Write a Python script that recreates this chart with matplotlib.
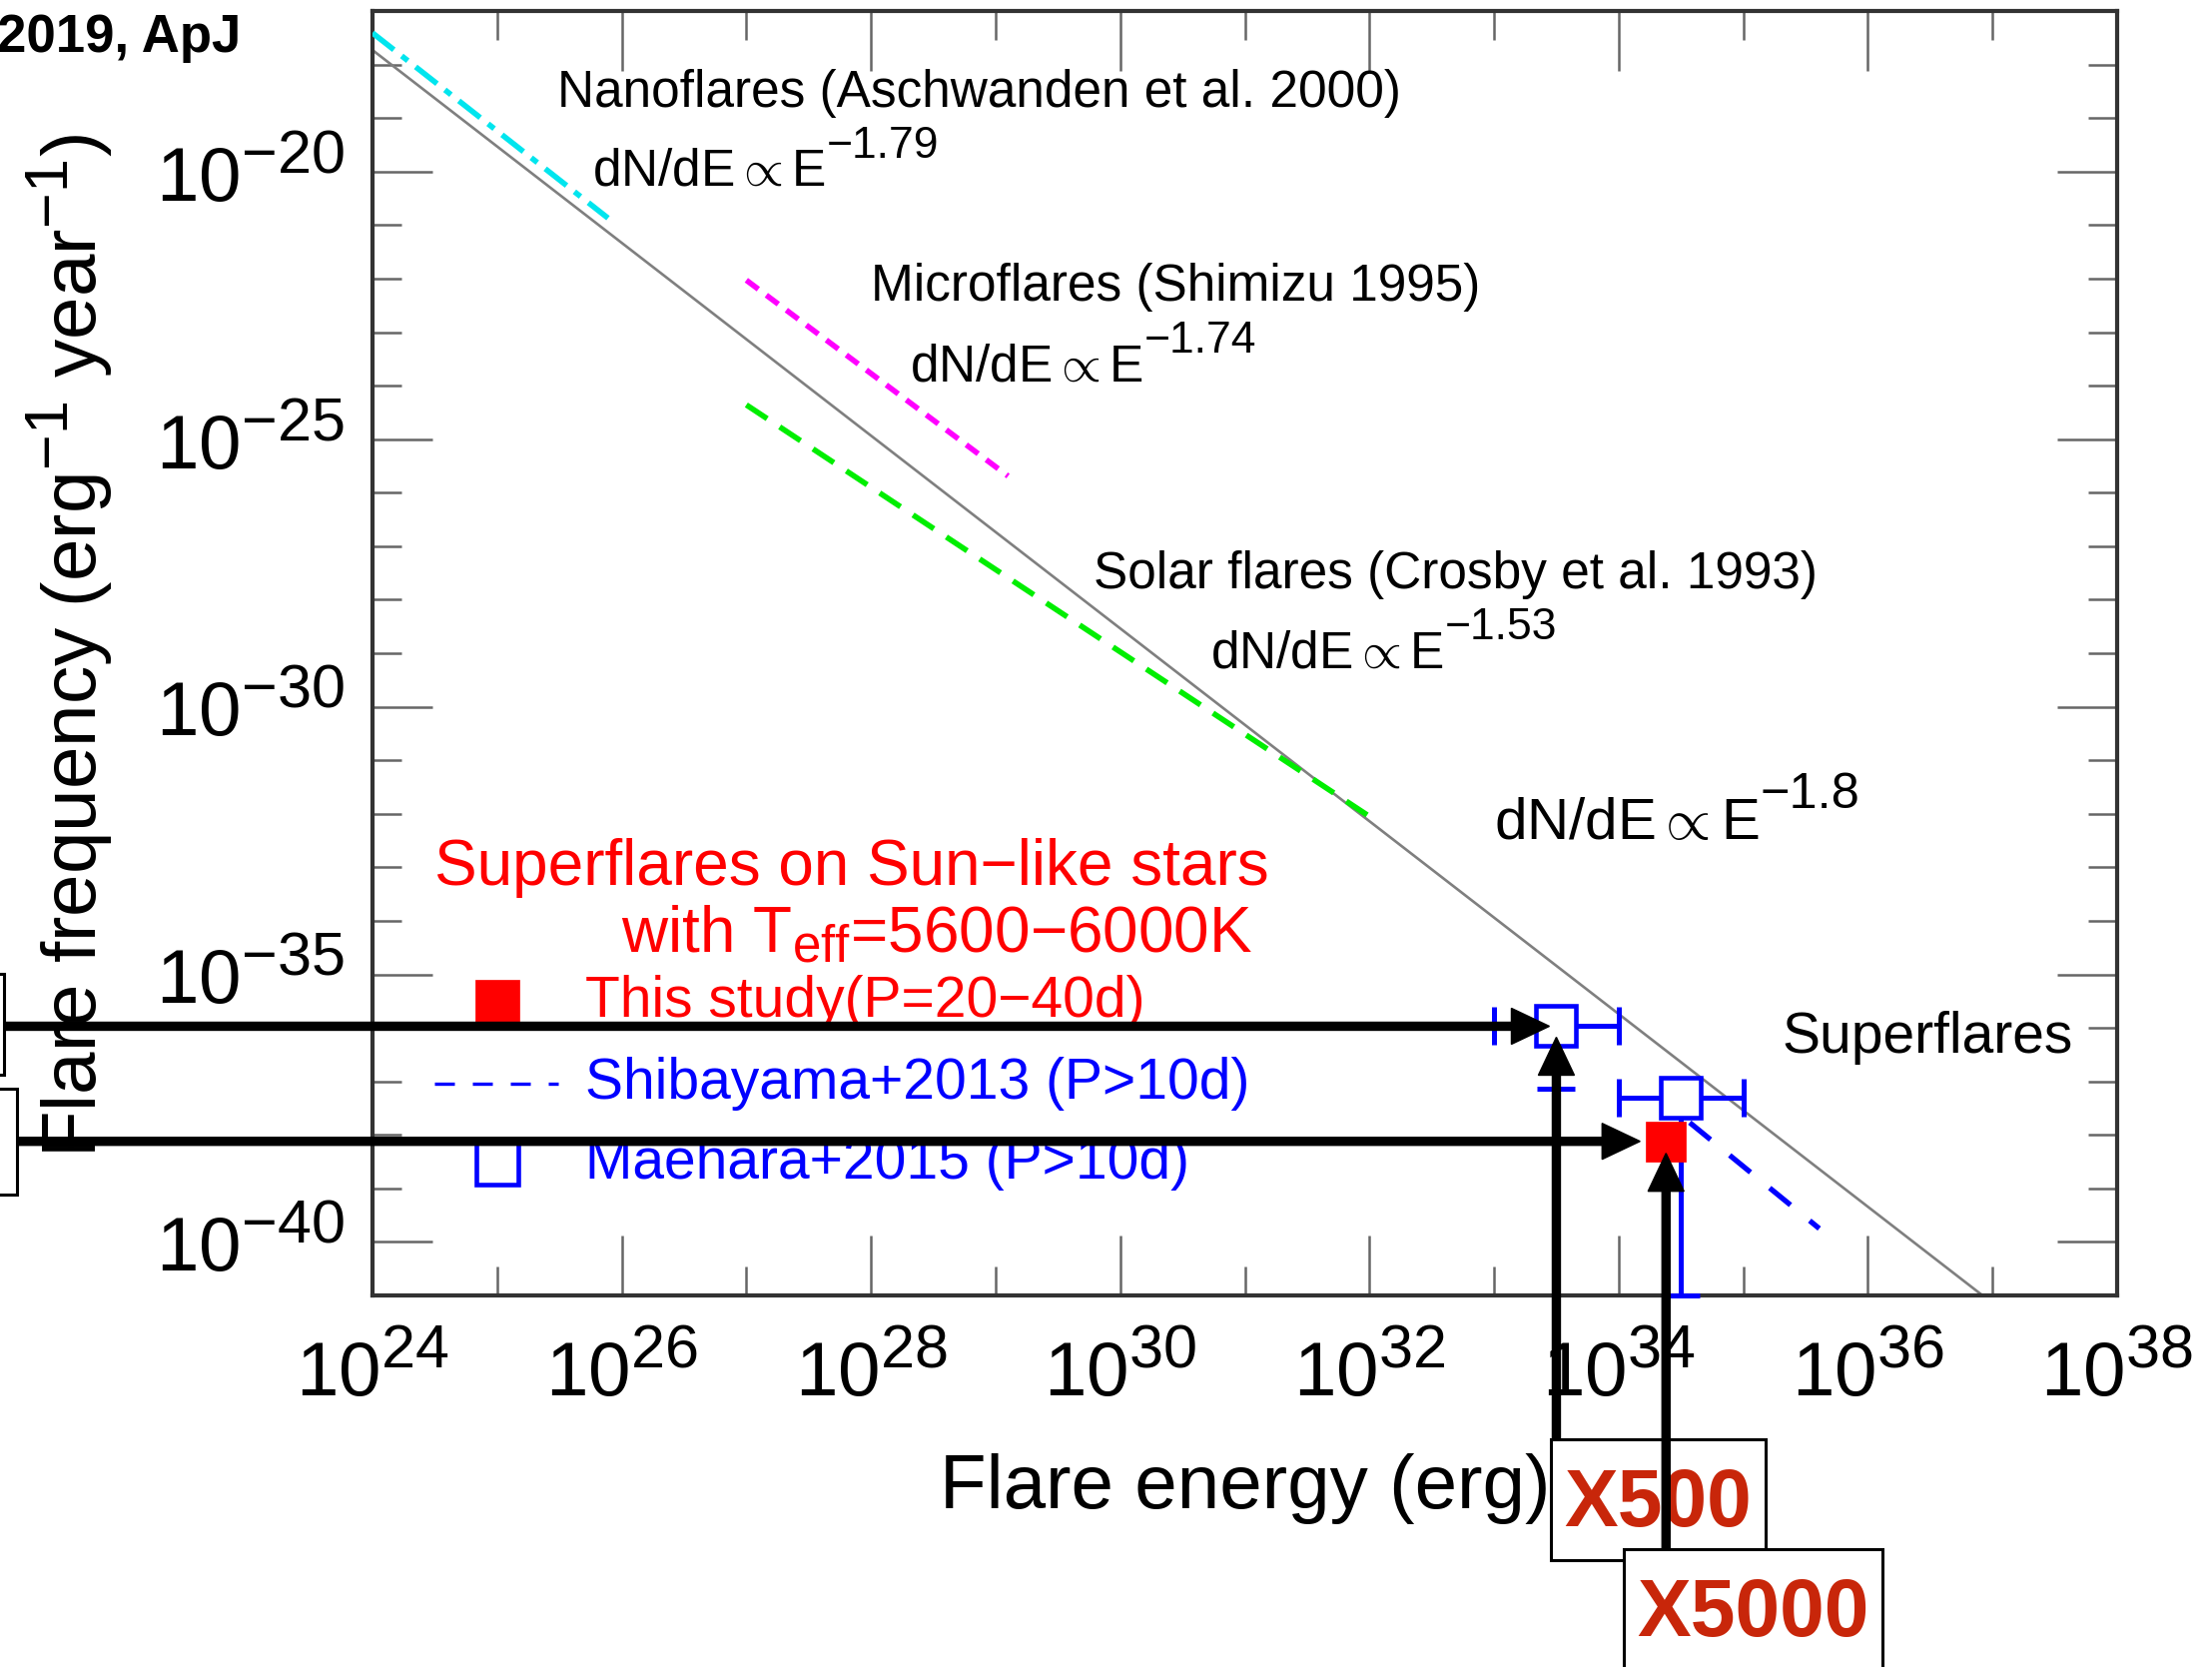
import matplotlib
matplotlib.use('Agg')
import matplotlib.pyplot as plt
import matplotlib._mathtext as mathtext_internal
import numpy as np
from matplotlib.patches import Rectangle, FancyArrow
from matplotlib.transforms import IdentityTransform
from matplotlib.ticker import FixedLocator, FuncFormatter, NullFormatter

plt.rcParams['font.family'] = ['Liberation Sans', 'DejaVu Sans']
plt.rcParams['mathtext.fontset'] = 'custom'
plt.rcParams['mathtext.rm'] = 'Liberation Sans'
plt.rcParams['mathtext.it'] = 'Liberation Sans:italic'
plt.rcParams['mathtext.bf'] = 'Liberation Sans:bold'
# the original uses bigger super/subscripts than mathtext's default 0.7
mathtext_internal.SHRINK_FACTOR = 0.8

W, H = 2215, 1669

# power-law lines, end points as (log10 E, log10 frequency)
fit_logE = [24.0, 36.92]          # dN/dE ~ E^-1.8 through everything
fit_logF = [-17.73, -41.0]
nano_logE = [24.0, 25.89]         # Aschwanden et al. 2000
nano_logF = [-17.41, -20.87]
micro_logE = [27.0, 29.1]         # Shimizu 1995
micro_logF = [-22.03, -25.69]
crosby_logE = [27.0, 32.0]        # Crosby et al. 1993
crosby_logF = [-24.36, -32.05]
shiba_logE = [34.57, 35.61]       # Shibayama+2013
shiba_logF = [-37.77, -39.75]

# Maehara+2015 points
maehara_logE = [33.5, 34.5]
maehara_logF = [-35.97, -37.30]
maehara_logE_lo = [33.0, 34.0]
maehara_logE_hi = [34.0, 35.0]
maehara_logF_lo = [-37.13, -41.0]

# this study
this_logE = [34.38]
this_logF = [-38.12]
this_logF_lo = [-41.0]

xmajor = [24, 26, 28, 30, 32, 34, 36, 38]
xminor = [25, 27, 29, 31, 33, 35, 37]
ymajor = [-20, -25, -30, -35, -40]
yminor = [v for v in range(-41, -16) if v not in ymajor]


def p(a):
    return 10.0 ** np.array(a)


fig = plt.figure(figsize=(W / 100, H / 100), dpi=100)
ax = fig.add_axes([373 / W, 1 - 1297 / H, (2120 - 373) / W, (1297 - 11) / H])
ax.set_xscale('log')
ax.set_yscale('log')
ax.set_xlim(1e24, 1e38)
ax.set_ylim(1e-41, 1e-17)
renderer = fig.canvas.get_renderer()

ax.plot(p(fit_logE), p(fit_logF), color='#7f7f7f', lw=1.9, zorder=2)
ax.plot(p(nano_logE), p(nano_logF), color='#00e5ee', lw=4.0,
        dashes=(4.9, 1.8, 1.4, 1.8), zorder=3)
ax.plot(p(micro_logE), p(micro_logF), color='#ff00ff', lw=4.0,
        dashes=(2.7, 1.8), zorder=3)
ax.plot(p(crosby_logE), p(crosby_logF), color='#00ee00', lw=4.0,
        dashes=(4.5, 2.7), zorder=3)
ax.plot(p(shiba_logE), p(shiba_logF), color='#0000ff', lw=3.8,
        dashes=(5.1, 4.7), zorder=3)

# Maehara error bars and squares
mE = p(maehara_logE)
mF = p(maehara_logF)
xerr = [mE - p(maehara_logE_lo), p(maehara_logE_hi) - mE]
yerr = [mF - p(maehara_logF_lo), np.zeros(len(mF))]
ax.errorbar(mE, mF, xerr=xerr, yerr=yerr, fmt='none', ecolor='#0000ff',
            elinewidth=3.6, capsize=14, capthick=3.6, zorder=4, clip_on=False)

tE = p(this_logE)
tF = p(this_logF)
ax.errorbar(tE, tF, yerr=[tF - p(this_logF_lo), np.zeros(1)], fmt='none',
            ecolor='#ff0000', elinewidth=3.6, capsize=0, zorder=5)
ax.plot(tE, tF, 's', ms=29, color='#ff0000', mec='#ff0000', mew=0.5, zorder=6)
ax.plot(mE, mF, 's', ms=29, mfc='white', mec='#0000ff', mew=3.3, zorder=7)

# axes styling
for s in ax.spines.values():
    s.set_linewidth(3.0)
    s.set_color('#333333')
ax.xaxis.set_major_locator(FixedLocator(p(xmajor)))
ax.xaxis.set_minor_locator(FixedLocator(p(xminor)))
ax.yaxis.set_major_locator(FixedLocator(p(ymajor)))
ax.yaxis.set_minor_locator(FixedLocator(p(yminor)))
fmt = FuncFormatter(lambda v, pos: r'$\mathregular{10^{%d}}$' % round(np.log10(v)))
ax.xaxis.set_major_formatter(fmt)
ax.yaxis.set_major_formatter(fmt)
ax.xaxis.set_minor_formatter(NullFormatter())
ax.yaxis.set_minor_formatter(NullFormatter())
ax.tick_params(which='both', direction='in', top=True, right=True,
               color='#666666', width=1.8, labelsize=55)
ax.tick_params(which='major', length=43)
ax.tick_params(which='minor', length=21)
ax.tick_params(axis='x', which='major', pad=30)
ax.tick_params(axis='y', which='major', pad=20)


def law(fx, fy, k, size=37):
    # base text, then a large superscript placed right after it
    t = ax.text(fx, fy, r'dN/dE$\propto$E', va='baseline', fontsize=size,
                color='black', transform=ax.transAxes)
    bb = t.get_window_extent(renderer)
    bx, by = ax.transAxes.transform((fx, fy))
    ax.text(bb.x1 + 1, by + 0.76 * size, '\u2212' + k, va='baseline',
            fontsize=0.865 * size, color='black', transform=IdentityTransform())


ann = dict(transform=ax.transAxes, fontsize=37, color='black')
ax.text(0.106, 0.936, 'Nanoflares (Aschwanden et al. 2000)', va='center', **ann)
law(0.126, 0.864, '1.79')
ax.text(0.2857, 0.785, 'Microflares (Shimizu 1995)', va='center', **ann)
law(0.308, 0.712, '1.74')
ax.text(0.413, 0.561, 'Solar flares (Crosby et al. 1993)', va='center', **ann)
law(0.48, 0.489, '1.53')
law(0.643, 0.355, '1.8', size=42)
ax.text(0.808, 0.2006, 'Superflares', va='center', transform=ax.transAxes,
        fontsize=41, color='black')

red = dict(transform=ax.transAxes, color='#ff0000')
ax.text(0.0355, 0.3328, 'Superflares on Sun\u2212like stars', va='center', fontsize=46, **red)
ax.text(0.1425, 0.2675, 'with T$_{\\mathregular{eff}}$=5600\u22126000K',
        va='baseline', fontsize=46, **red)
ax.text(0.122, 0.2286, 'This study(P=20\u221240d)', va='center', fontsize=41, **red)
ax.text(0.122, 0.165, 'Shibayama+2013 (P>10d)', va='center', fontsize=41,
        color='#0000ff', transform=ax.transAxes)
ax.text(0.122, 0.1027, 'Maehara+2015 (P>10d)', va='center', fontsize=41,
        color='#0000ff', transform=ax.transAxes)
ax.plot([0.0715], [0.2286], 's', ms=31, color='#ff0000', mew=0.5, transform=ax.transAxes)
ax.plot([0.0353, 0.1064], [0.165, 0.165], color='#0000ff', lw=2.4,
        dashes=(6.0, 5.4), transform=ax.transAxes)
ax.plot([0.0715], [0.1027], 's', ms=30, mfc='white', mec='#0000ff', mew=3.3,
        transform=ax.transAxes)

# axis labels
fig.text(1247 / W, 1 - 1490 / H, 'Flare energy (erg)', ha='center', va='center', fontsize=55)
fig.text(70 / W, 1 - 646 / H, r'Flare frequency (erg$^{-1}$ year$^{-1}$)', rotation=90,
         ha='center', va='center', fontsize=55)
fig.text(-3 / W, 1 - 38 / H, '2019, ApJ', ha='left', va='center', fontsize=38,
         fontweight='bold')

# overlay in pixel coordinates for boxes and arrows
ov = fig.add_axes([0, 0, 1, 1])
ov.set_xlim(0, W)
ov.set_ylim(H, 0)
ov.axis('off')


def to_px(E, F):
    x, y = ax.transData.transform((E, F))
    return x, H - y


box_kw = dict(fc='white', ec='black', lw=2.2)
ov.add_patch(Rectangle((-20, 975), 24, 101, **box_kw))
ov.add_patch(Rectangle((-20, 1090), 37, 106, **box_kw))
ov.add_patch(Rectangle((1553, 1441), 215, 121, zorder=1, **box_kw))
ov.text(1660, 1507, 'X500', ha='center', va='center', fontsize=58, fontweight='bold',
        color='#c8260a', zorder=2)
ov.add_patch(Rectangle((1626, 1551), 259, 140, zorder=3, **box_kw))
ov.text(1755, 1617, 'X5000', ha='center', va='center', fontsize=58, fontweight='bold',
        color='#c8260a', zorder=4)

arr = dict(width=8, head_width=36, head_length=38, length_includes_head=True,
           color='black', zorder=6)
x1, y1 = to_px(mE[0], mF[0])
ov.add_patch(FancyArrow(4, y1, (x1 - 7) - 4, 0, **arr))
ov.add_patch(FancyArrow(x1, 1441, 0, (y1 + 11) - 1441, **arr))
x2, y2 = to_px(tE[0], tF[0])
ov.add_patch(FancyArrow(17, y2, (x2 - 26) - 17, 0, **arr))
ov.add_patch(FancyArrow(x2, 1551, 0, (y2 + 12) - 1551, **arr))

fig.savefig('out.png', dpi=100)
